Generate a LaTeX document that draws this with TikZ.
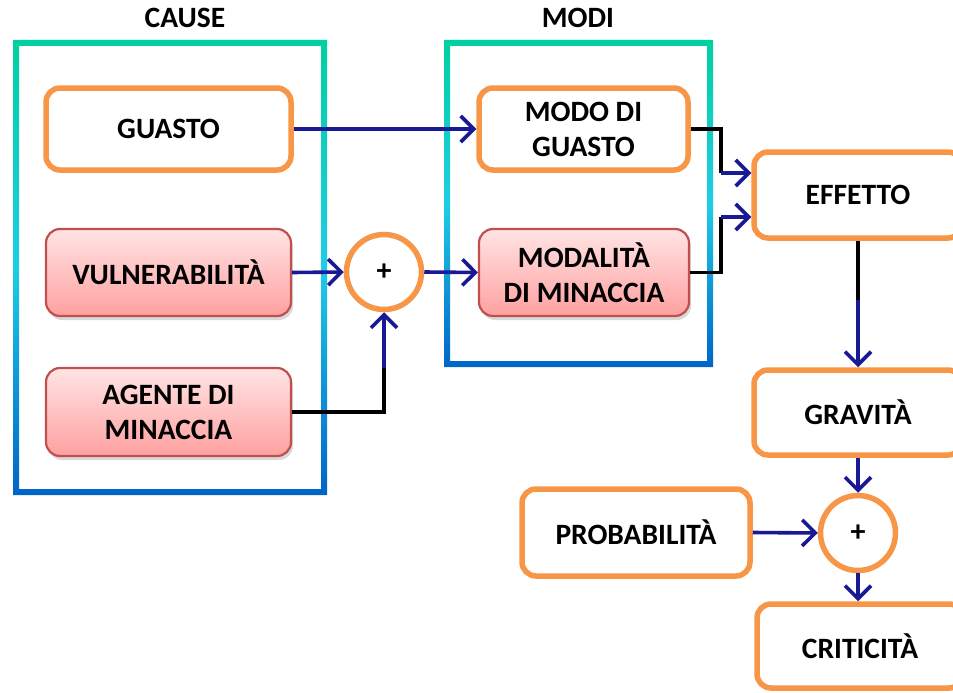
\documentclass[tikz,border=0pt]{standalone}
\usepackage{fontspec}
\setmainfont{Carlito}
\usetikzlibrary{arrows.meta,shadows,calc}
\definecolor{orng}{RGB}{247,150,70}
\definecolor{arr}{RGB}{25,25,150}
\definecolor{pinkb}{RGB}{192,80,77}
\definecolor{pinktop}{RGB}{255,228,228}
\definecolor{pinkbot}{RGB}{255,160,160}
\definecolor{frtop}{RGB}{0,208,160}
\definecolor{frmid}{RGB}{30,205,230}
\definecolor{frbot}{RGB}{0,100,200}
\tikzset{
  txt/.style={font=\bfseries\fontsize{29.5}{35}\selectfont, align=center, inner sep=0pt},
  obox/.style={txt, draw=orng, line width=5.5pt, fill=white, rounded corners=14pt},
  pbox/.style={txt, draw=pinkb, line width=2.2pt, top color=pinktop, bottom color=pinkbot,
    rounded corners=14pt, drop shadow={opacity=0.3, shadow xshift=2pt, shadow yshift=-4pt}},
  sumc/.style={circle, draw=orng, line width=5.5pt, fill=white, minimum size=75pt, inner sep=0pt,
    font=\bfseries\fontsize{30}{34}\selectfont},
  link/.style={draw=arr, line width=3.6pt, -{Straight Barb[length=13pt,width=26pt,line width=3.6pt]}},
  plain/.style={draw=black, line width=3.6pt},
  frame/.style={even odd rule, top color=frtop, bottom color=frbot, middle color=frmid}
}
\begin{document}
\begin{tikzpicture}[x=1pt,y=-1pt]
\useasboundingbox (0,0) rectangle (953,693);
\clip (0,0) rectangle (953,693);
% frames
\shade[frame] (13,40) rectangle (327,495) (19,46) rectangle (321,489);
\shade[frame] (444,40) rectangle (713,367) (450,46) rectangle (707,361);
\node[txt] (tcause) at (185,18) {CAUSE};
\node[txt] (tmodi) at (578,18) {MODI};
% nodes
\node[obox, minimum width=245pt, minimum height=82pt] (guasto) at (168.5,129) {GUASTO};
\node[pbox, minimum width=245pt, minimum height=87pt] (vuln) at (168.5,272.5) {VULNERABILITÀ};
\node[pbox, minimum width=245pt, minimum height=88pt] (agente) at (168.5,412) {AGENTE DI\\MINACCIA};
\node[sumc] (s1) at (384,272) {+};
\node[obox, minimum width=209pt, minimum height=82pt] (mg) at (583.5,129) {MODO DI\\GUASTO};
\node[pbox, minimum width=210pt, minimum height=87pt] (mm) at (584,272.5) {MODALITÀ\\DI MINACCIA};
\node[obox, minimum width=208pt, minimum height=86pt] (eff) at (858,195) {EFFETTO};
\node[obox, minimum width=208pt, minimum height=85pt] (grav) at (858,412.5) {GRAVITÀ};
\node[obox, minimum width=228pt, minimum height=87pt] (prob) at (636,532.5) {PROBABILITÀ};
\node[sumc] (s2) at (858,533) {+};
\node[obox, minimum width=206pt, minimum height=84pt] (crit) at (860,646) {CRITICITÀ};
% connectors
\draw[link] (guasto.east) -- (mg.west);
\draw[link] (vuln.east) -- (s1.west);
\draw[link] (s1.east) -- (mm.west);
\coordinate (a1) at (s1.south |- agente.east);
\draw[plain] (agente.east) -- (a1) -- ($(a1)+(0,-45)$);
\draw[link] ($(a1)+(0,-44)$) -- (s1.south);
\coordinate (j1) at (721,173);
\coordinate (j2) at (721,217);
\draw[plain] (mg.east) -| (j1);
\draw[link] (j1) -- (eff.west |- j1);
\draw[plain] (mm.east) -| (j2);
\draw[link] (j2) -- (eff.west |- j2);
\draw[plain] (eff.south) -- ($(eff.south)+(0,60)$);
\draw[link] ($(eff.south)+(0,59)$) -- (grav.north);
\draw[link] (grav.south) -- (s2.north);
\draw[link] (prob.east) -- (s2.west);
\draw[link] (s2.south) -- (s2.south |- crit.north);
\end{tikzpicture}
\end{document}
